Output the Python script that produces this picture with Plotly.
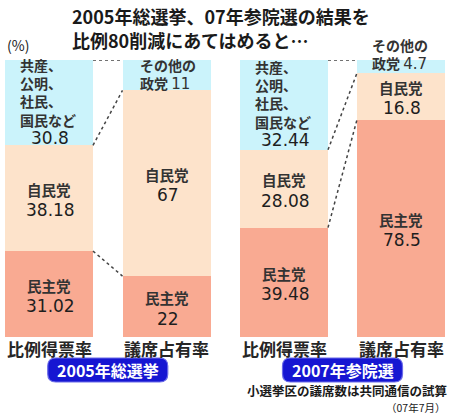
import plotly.graph_objects as go

# ---- data ----
categories = ["比例得票率", "議席占有率", "比例得票率", "議席占有率"]
elections = ["2005年総選挙", "2007年参院選"]
dpj = [31.02, 22, 39.48, 78.5]      # 民主党
ldp = [38.18, 67, 28.08, 16.8]      # 自民党
others = [30.8, 11, 32.44, 4.7]     # その他
others_vote_label = "共産、<br>公明、<br>社民、<br>国民など"
others_seat_label = "その他の<br>政党 "
title_lines = ["2005年総選挙、07年参院選の結果を", "比例80削減にあてはめると…"]
note_lines = ["小選挙区の議席数は共同通信の試算", "（07年7月）"]

# ---- layout constants ----
W, H = 450, 414
centers = [49, 166.5, 284, 401]
bw = 88
PY_TOP, PY_BOT = 60, 337
C_BLUE, C_PEACH, C_RED = "#cbf3fb", "#fde3cb", "#f9aa92"
JP = "Noto Sans CJK JP"
NUM = "DejaVu Sans"


def py(p):
    return 1 - p / H


fig = go.Figure()
for vals, col, name in [(dpj, C_RED, "民主党"), (ldp, C_PEACH, "自民党"), (others, C_BLUE, "その他")]:
    fig.add_trace(go.Bar(x=centers, y=vals, width=bw, marker=dict(color=col, line=dict(width=0)),
                         name=name, hoverinfo="skip"))

# dotted connectors between pairs
for i in (0, 2):
    a, b = i, i + 1
    xa, xb = centers[a] + bw / 2, centers[b] - bw / 2
    for ya, yb in [(dpj[a], dpj[b]), (dpj[a] + ldp[a], dpj[b] + ldp[b]),
                   (dpj[a] + ldp[a] + others[a], dpj[b] + ldp[b] + others[b])]:
        fig.add_trace(go.Scatter(x=[xa, xb], y=[ya, yb], mode="lines",
                                 line=dict(color="#444444", width=1.5, dash="dot"),
                                 hoverinfo="skip", showlegend=False))

ann = []
def fmt(v):
    return f"{v:g}"

for i, c in enumerate(centers):
    # 民主党 and 自民党 segments
    for base, v, nm in [(0, dpj[i], "民主党"), (dpj[i], ldp[i], "自民党")]:
        mid = base + v / 2
        ann.append(dict(x=c, y=mid, text=nm, showarrow=False, yshift=9, yanchor="middle",
                        font=dict(family=JP, size=14.5, color="#333333", weight="bold")))
        ann.append(dict(x=c + 1, y=mid, text=fmt(v), showarrow=False, yshift=-12, yanchor="middle",
                        font=dict(family=NUM, size=17, color="#1e1e1e")))
    base = dpj[i] + ldp[i]
    mid = base + others[i] / 2
    if i % 2 == 0:
        ann.append(dict(x=c - 31, y=mid, text=others_vote_label, showarrow=False, xanchor="left",
                        yanchor="middle", align="left", yshift=10,
                        font=dict(family=JP, size=14, color="#333333", weight="bold")))
        ann.append(dict(x=c + 1, y=mid, text=fmt(others[i]), showarrow=False, yshift=-35,
                        yanchor="middle", font=dict(family=NUM, size=17, color="#1e1e1e")))
    else:
        shift = 1.5 if others[i] > 8 else 13
        left = c - 28.5 if others[i] > 8 else c - 31
        ann.append(dict(x=left, y=mid, xanchor="left", yanchor="middle", align="left",
                        showarrow=False, yshift=shift,
                        text=f"{others_seat_label}<span style='font-family:{NUM};font-size:15px;font-weight:normal'>{fmt(others[i])}</span>",
                        font=dict(family=JP, size=14, color="#333333", weight="bold")))
    # category labels
    ann.append(dict(x=c, y=py(348), yref="paper", yanchor="middle", text=categories[i],
                    showarrow=False, font=dict(family=JP, size=17, color="#262626", weight="bold")))

# title
ann.append(dict(x=70, y=py(16), yref="paper", xanchor="left", yanchor="middle",
                text=f"<b>{title_lines[0]}</b>",
                showarrow=False, font=dict(family=JP, size=18, color="#1a1a1a")))
ann.append(dict(x=70, y=py(40), yref="paper", xanchor="left", yanchor="middle",
                text=f"<b>{title_lines[1]}</b>",
                showarrow=False, font=dict(family=JP, size=18, color="#1a1a1a")))
ann.append(dict(x=5, y=py(45), yref="paper", xanchor="left", yanchor="middle", text="(%)",
                showarrow=False, font=dict(family=JP, size=14, color="#1a1a1a")))

# badges
shapes = []
def rrect(x0, x1, y0, y1, r=8):
    ry = r / H
    Y0, Y1 = py(y1), py(y0)
    return (f"M {x0+r},{Y0} L {x1-r},{Y0} Q {x1},{Y0} {x1},{Y0+ry} L {x1},{Y1-ry} "
            f"Q {x1},{Y1} {x1-r},{Y1} L {x0+r},{Y1} Q {x0},{Y1} {x0},{Y1-ry} "
            f"L {x0},{Y0+ry} Q {x0},{Y0} {x0+r},{Y0} Z")

for k, i in enumerate((0, 2)):
    mid_x = (centers[i] + centers[i + 1]) / 2
    x0, x1 = mid_x - 60, mid_x + 60
    shapes.append(dict(type="path", xref="x", yref="paper", path=rrect(x0, x1, 358, 382),
                       fillcolor="#1616d2", line=dict(color="#6a6ae8", width=1.2)))
    ann.append(dict(x=mid_x, y=py(370), yref="paper", yanchor="middle",
                    text=f"<b>{elections[k]}</b>", showarrow=False,
                    font=dict(family=JP, size=16, color="white")))

ann.append(dict(x=449, y=py(390.5), yref="paper", xanchor="right", yanchor="middle",
                text=f"<b>{note_lines[0]}</b>",
                showarrow=False, font=dict(family=JP, size=12.5, color="#1a1a1a")))
ann.append(dict(x=447, y=py(407), yref="paper", xanchor="right", yanchor="middle",
                text=note_lines[1],
                showarrow=False, font=dict(family=JP, size=10.5, color="#1a1a1a")))

fig.update_layout(
    width=W, height=H, margin=dict(l=0, r=0, t=0, b=0),
    paper_bgcolor="white", plot_bgcolor="white", barmode="stack", showlegend=False,
    xaxis=dict(range=[0, W], domain=[0, 1], visible=False, fixedrange=True),
    yaxis=dict(range=[0, 100], domain=[py(PY_BOT), py(PY_TOP)], visible=False, fixedrange=True),
    annotations=ann, shapes=shapes,
)
fig.write_html("out.html", config={"displayModeBar": False},
               post_script="document.body.style.margin='0';document.body.style.overflow='hidden';")
